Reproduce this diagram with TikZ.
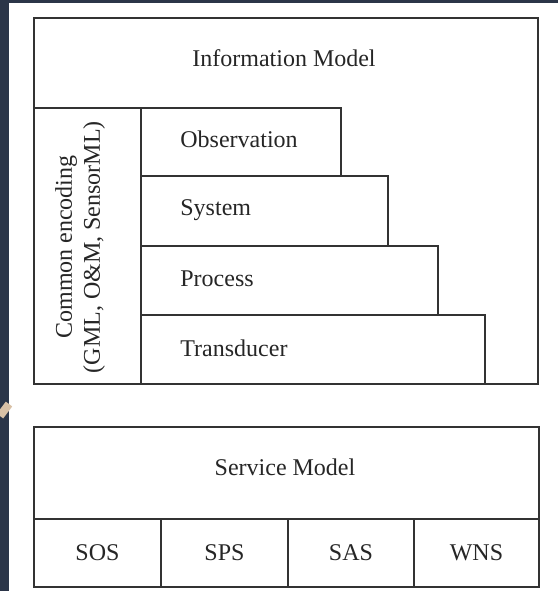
\documentclass[tikz,border=0pt]{standalone}
\usepackage{fontspec}
\setmainfont{Liberation Serif}
\begin{document}
\begin{tikzpicture}[x=0.5pt,y=-0.5pt,
  frame/.style={draw=black!80,line width=1pt},
  lbl/.style={font=\fontsize{12}{14}\selectfont,text=black!85,inner sep=0pt},
  tier/.style={frame,fill=white}]
\definecolor{navy}{HTML}{2B3548}
\definecolor{tan}{HTML}{D9C1A6}
% page and panel
\useasboundingbox (0,0) rectangle (558,591);
\fill[navy] (0,0) rectangle (558,591);
\fill[white] (9,3) rectangle (558,591);
\draw[tan,line width=4pt] (0,416) -- (9,404);

% information model frame
\node[frame,minimum width=504*0.5pt,minimum height=366*0.5pt,anchor=north west,inner sep=0pt] (info) at (33,17) {};
\node[lbl] (infot) at (284,58) {Information Model};

% common encoding column
\node[frame,minimum width=107*0.5pt,minimum height=276*0.5pt,anchor=north west,inner sep=0pt] (enc) at (33,107) {};
\node[lbl,rotate=90,align=center] (enct) at (80,247) {Common encoding\\(GML, O\&M, SensorML)};

% stepped tiers
\node[tier,minimum width=344*0.5pt,minimum height=69*0.5pt,anchor=north west,inner sep=0pt] (trans) at (140,314) {};
\node[tier,minimum width=297*0.5pt,minimum height=69*0.5pt,anchor=north west,inner sep=0pt] (proc) at (140,245) {};
\node[tier,minimum width=247*0.5pt,minimum height=70*0.5pt,anchor=north west,inner sep=0pt] (sys) at (140,175) {};
\node[tier,minimum width=200*0.5pt,minimum height=68*0.5pt,anchor=north west,inner sep=0pt] (obs) at (140,107) {};
\node[lbl,anchor=west] (obst) at (180,139) {Observation};
\node[lbl,anchor=west] (syst) at (180,210) {System};
\node[lbl,anchor=west] (proct) at (180,279) {Process};
\node[lbl,anchor=west] (transt) at (180,348) {Transducer};

% service model
\node[frame,minimum width=505*0.5pt,minimum height=92*0.5pt,anchor=north west,inner sep=0pt] (serv) at (33,426) {};
\node[lbl] (servt) at (285,467) {Service Model};
\node[frame,minimum width=127*0.5pt,minimum height=68*0.5pt,anchor=north west,inner sep=0pt] (sos) at (33,518) {};
\node[frame,minimum width=127*0.5pt,minimum height=68*0.5pt,anchor=north west,inner sep=0pt] (sps) at (160,518) {};
\node[frame,minimum width=126*0.5pt,minimum height=68*0.5pt,anchor=north west,inner sep=0pt] (sas) at (287,518) {};
\node[frame,minimum width=125*0.5pt,minimum height=68*0.5pt,anchor=north west,inner sep=0pt] (wns) at (413,518) {};
\node[lbl] at (sos.center) {SOS};
\node[lbl] at (sps.center) {SPS};
\node[lbl] at (sas.center) {SAS};
\node[lbl] at (wns.center) {WNS};
\end{tikzpicture}
\end{document}
